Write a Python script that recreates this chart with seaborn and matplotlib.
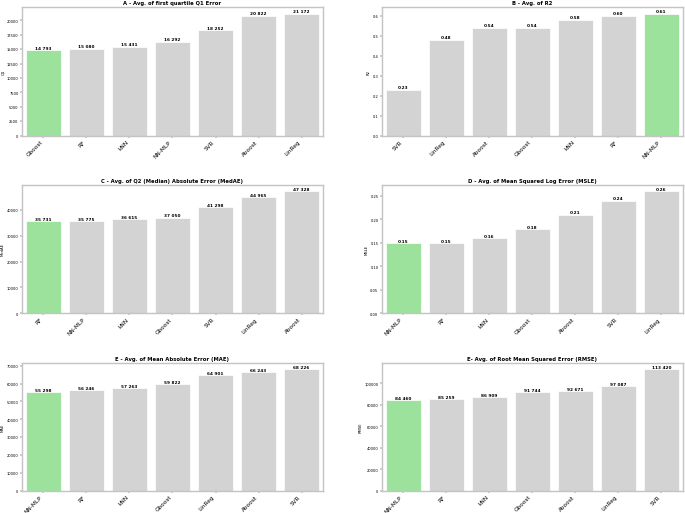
import matplotlib
matplotlib.use("Agg")
import matplotlib.pyplot as plt
import seaborn as sns
import pandas as pd

# Averages per model, already sorted from best to worst
q1_models = ["Gboost", "RF", "kNN", "NN-MLP", "SVR", "Aboost", "LinReg"]
q1_values = [14793, 15080, 15431, 16292, 18252, 20822, 21172]

r2_models = ["SVR", "LinReg", "Aboost", "Gboost", "kNN", "RF", "NN-MLP"]
r2_values = [0.23, 0.48, 0.54, 0.54, 0.58, 0.60, 0.61]

medae_models = ["RF", "NN-MLP", "kNN", "Gboost", "SVR", "LinReg", "Aboost"]
medae_values = [35731, 35775, 36615, 37050, 41298, 44965, 47328]

msle_models = ["NN-MLP", "RF", "kNN", "Gboost", "Aboost", "SVR", "LinReg"]
msle_values = [0.15, 0.15, 0.16, 0.18, 0.21, 0.24, 0.26]

mae_models = ["NN-MLP", "RF", "kNN", "Gboost", "LinReg", "Aboost", "SVR"]
mae_values = [55298, 56246, 57263, 59822, 64901, 66243, 68226]

rmse_models = ["NN-MLP", "RF", "kNN", "Gboost", "Aboost", "LinReg", "SVR"]
rmse_values = [84460, 85259, 86909, 91744, 92671, 97087, 113420]

panels = [
    ("A - Avg. of first quartile Q1 Error", "Q1", q1_models, q1_values, "int", "min"),
    ("B - Avg. of R2", "R2", r2_models, r2_values, "float", "max"),
    ("C - Avg. of Q2 (Median) Absolute Error (MedAE)", "MedAE", medae_models, medae_values, "int", "min"),
    ("D - Avg. of Mean Squared Log Error (MSLE)", "MSLE", msle_models, msle_values, "float", "min"),
    ("E - Avg. of Mean Absolute Error (MAE)", "MAE", mae_models, mae_values, "int", "min"),
    ("E- Avg. of Root Mean Squared Error (RMSE)", "RMSE", rmse_models, rmse_values, "int", "min"),
]

fig, axes = plt.subplots(3, 2, figsize=(20, 15.0), dpi=34.25)
fig.subplots_adjust(left=0.032, right=0.997, top=0.984, bottom=0.043, wspace=0.195, hspace=0.386)

for ax, (title, ylabel, models, values, fmt, best) in zip(axes.flat, panels):
    df = pd.DataFrame({"model": models, "value": values})
    # highlight the best model of each metric
    best_val = min(values) if best == "min" else max(values)
    best_idx = values.index(best_val)
    colors = ["lightgreen" if i == best_idx else "lightgray" for i in range(len(models))]
    sns.barplot(data=df, x="model", y="value", hue="model", palette=colors,
                legend=False, ax=ax, edgecolor="white", linewidth=1.5)
    for container in ax.containers:
        if fmt == "int":
            labels = [f"{v:,.0f}".replace(",", " ") for v in container.datavalues]
        else:
            labels = [f"{v:.2f}" for v in container.datavalues]
        ax.bar_label(container, labels=labels, fontsize=9, fontweight="bold", padding=0)
    ax.set_title(title, fontsize=11, fontweight="bold")
    ax.set_xlabel("")
    ax.set_ylabel(ylabel, fontsize=8)
    ax.tick_params(axis="y", labelsize=7.5)
    for spine in ax.spines.values():
        spine.set_color("#c4c4c4")
        spine.set_linewidth(3)
    plt.setp(ax.get_xticklabels(), rotation=45, ha="right", fontsize=12)

fig.savefig("out.png", dpi=34.25)
